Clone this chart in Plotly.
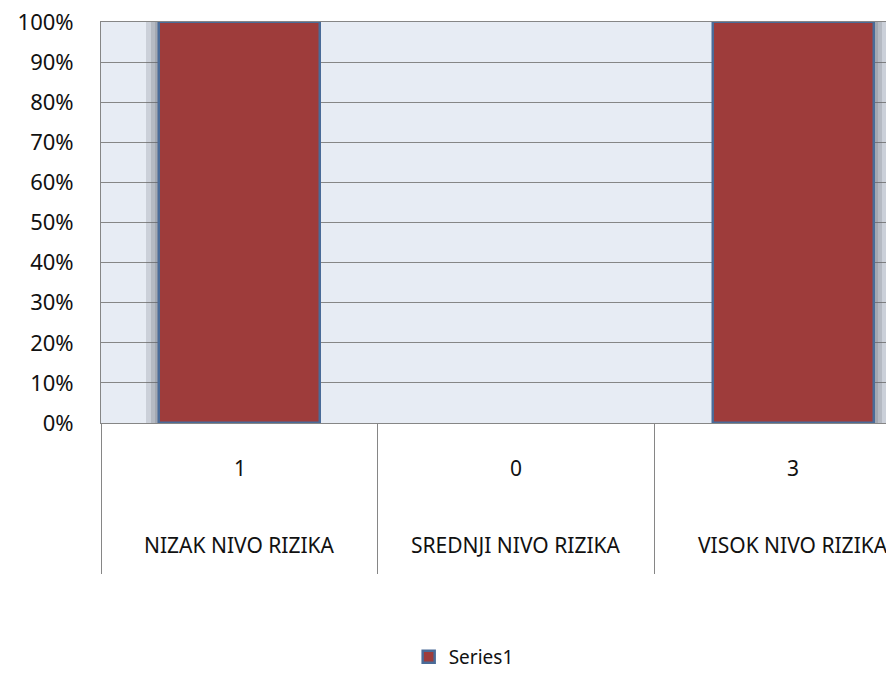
import plotly.graph_objects as go

# risk levels and counts (one series, shown as 100% stacked columns)
categories = ["NIZAK NIVO RIZIKA", "SREDNJI NIVO RIZIKA", "VISOK NIVO RIZIKA"]
counts = [1, 0, 3]
series_name = "Series1"

# share of the single series in each category total (empty when total is 0)
pct = [100.0 * c / c if c else None for c in counts]

FONT = "Noto Sans"
GRID = "#868686"
BAR_W = 0.578

fig = go.Figure()
# soft gradient shadow behind the columns (left on first, right on last)
for extra in (0.048, 0.032, 0.016):
    fig.add_trace(go.Bar(
        x=categories, y=pct, width=BAR_W + extra,
        offset=[-BAR_W / 2 - extra, -BAR_W / 2, -BAR_W / 2],
        marker=dict(color="rgba(95,100,112,0.2)", line=dict(width=0)),
        showlegend=False, hoverinfo="skip"))
fig.add_trace(go.Bar(
    x=categories, y=pct, name=series_name, width=BAR_W,
    marker=dict(color="#9e3c3b", line=dict(color="#4a6b98", width=2.5))))

# data-table rows under the axis
for cat, c in zip(categories, counts):
    fig.add_annotation(x=cat, xref="x", y=-0.113, yref="paper", text=str(c),
                       showarrow=False, yanchor="middle",
                       font=dict(family=FONT, size=21, color="#111"))
    fig.add_annotation(x=cat, xref="x", y=-0.305, yref="paper", text=cat,
                       showarrow=False, yanchor="middle",
                       font=dict(family=FONT, size=21, color="#111"))

fig.update_layout(
    width=886, height=676,
    margin=dict(l=101, r=0, t=22, b=249),
    paper_bgcolor="white", plot_bgcolor="#e7ecf4",
    barmode="overlay", bargap=0,
    font=dict(family=FONT, size=20, color="#111"),
    xaxis=dict(type="category", categoryarray=categories, range=[-0.5, 2.334],
               tickson="boundaries", ticks="outside", ticklen=150,
               tickcolor=GRID, tickwidth=1, showticklabels=False,
               showline=True, linecolor=GRID, linewidth=1, mirror=True,
               showgrid=False),
    yaxis=dict(range=[0, 100], dtick=10, ticksuffix="%", showgrid=True,
               gridcolor=GRID, gridwidth=1, showline=True, linecolor=GRID,
               linewidth=1, ticks="", ticklabelstandoff=22, zeroline=False,
               tickfont=dict(family=FONT, size=22, color="#111")),
    legend=dict(orientation="h", x=0.462, xanchor="center", y=-0.583,
                yanchor="middle", font=dict(family=FONT, size=19, color="#111"),
                bgcolor="rgba(0,0,0,0)"),
)

fig.write_html("out.html", config={"displayModeBar": False},
               post_script="document.body.style.margin='0';")
